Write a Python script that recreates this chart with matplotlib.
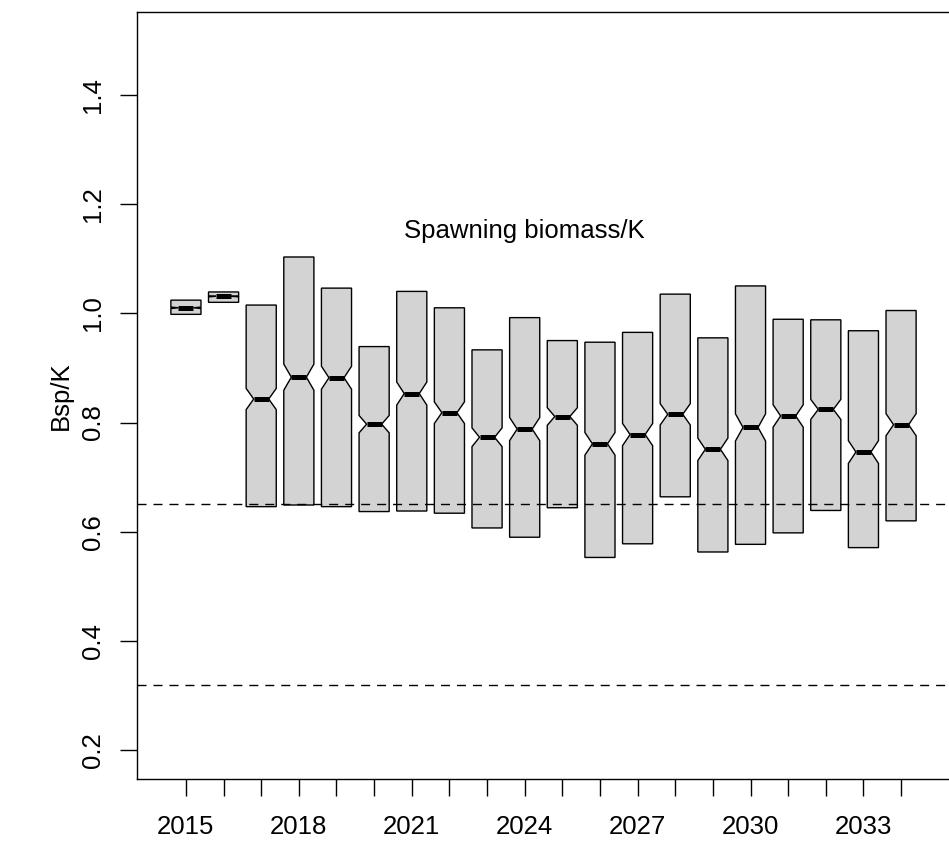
import numpy as np
import matplotlib
matplotlib.use("Agg")
import matplotlib.pyplot as plt

plt.rcParams['font.family'] = ['Liberation Sans', 'DejaVu Sans']

years = list(range(2015, 2035))
q_hi = [1.024, 1.039, 1.015, 1.103, 1.046, 0.939, 1.040, 1.010, 0.933, 0.992,
        0.950, 0.947, 0.965, 1.035, 0.955, 1.050, 0.989, 0.988, 0.968, 1.005]
median = [1.010, 1.031, 0.843, 0.883, 0.882, 0.797, 0.853, 0.818, 0.773, 0.788,
          0.811, 0.761, 0.778, 0.815, 0.751, 0.791, 0.812, 0.824, 0.746, 0.796]
q_lo = [0.998, 1.020, 0.646, 0.649, 0.646, 0.637, 0.638, 0.634, 0.607, 0.590,
        0.644, 0.553, 0.578, 0.664, 0.563, 0.577, 0.598, 0.639, 0.571, 0.620]
n_sims = 900
ref_levels = [0.65, 0.32]
label_years = [2015, 2018, 2021, 2024, 2027, 2030, 2033]
title_text = "Spawning biomass/K"
ylabel = "Bsp/K"

stats = []
for y, lo, md, hi in zip(years, q_lo, median, q_hi):
    half = 1.58 * (hi - lo) / np.sqrt(n_sims)
    stats.append(dict(med=md, q1=lo, q3=hi, whislo=lo, whishi=hi,
                      cilo=md - half, cihi=md + half, fliers=[], label=str(y)))

fig = plt.figure(figsize=(9.49, 8.44), dpi=100)
ax = fig.add_axes([137 / 949, (844 - 778.7) / 844, 813 / 949, (778.7 - 11.7) / 844])

ax.bxp(stats, positions=years, widths=0.8, shownotches=True, patch_artist=True,
       showcaps=False, showfliers=False,
       boxprops=dict(facecolor='#D3D3D3', edgecolor='black', linewidth=1.0),
       medianprops=dict(color='black', linewidth=3.6, solid_capstyle='butt'),
       whiskerprops=dict(linewidth=0))

for lvl in ref_levels:
    ax.axhline(lvl, color='black', linewidth=1.0, linestyle=(0, (6.5, 5)), zorder=5)

ax.text(2024, 1.15, title_text, ha='center', va='center', fontsize=18.5)

ax.set_xlim(2013.7, 2035.3)
ax.set_ylim(0.148, 1.552)
ax.set_xticks(years)
ax.set_xticklabels([str(y) if y in label_years else '' for y in years])
ax.set_yticks([0.2, 0.4, 0.6, 0.8, 1.0, 1.2, 1.4])
ax.set_yticklabels(['0.2', '0.4', '0.6', '0.8', '1.0', '1.2', '1.4'],
                   rotation=90, va='center')
ax.tick_params(axis='both', direction='out', length=12, width=1.0,
               labelsize=18.5, pad=11)
ax.tick_params(axis='x', pad=14)
ax.set_ylabel(ylabel, fontsize=18.5, labelpad=6)
ax.spines['right'].set_visible(False)
for s in ['left', 'bottom', 'top']:
    ax.spines[s].set_linewidth(1.0)

fig.savefig('out.png', dpi=100)
